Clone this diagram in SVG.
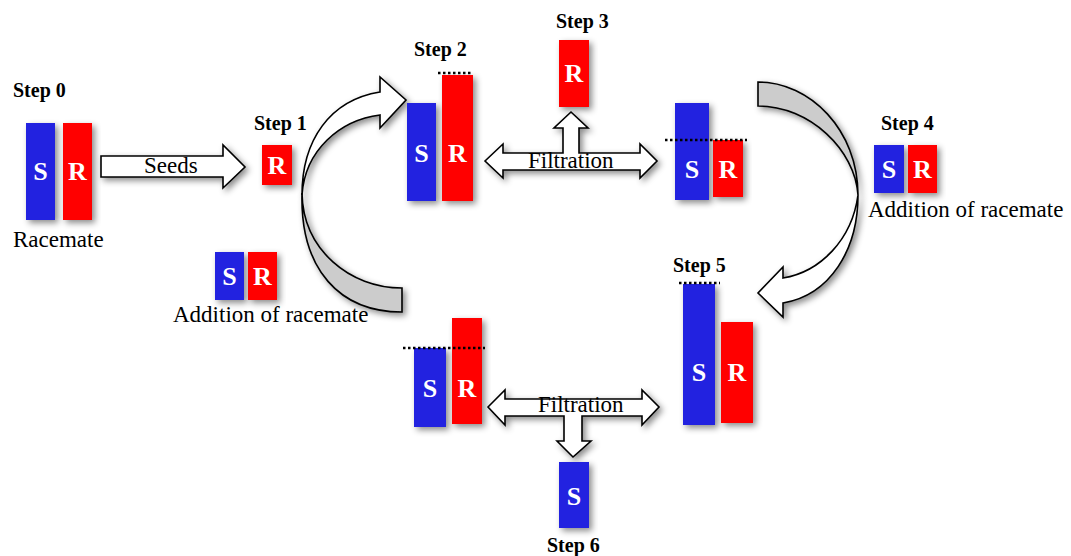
<svg xmlns="http://www.w3.org/2000/svg" width="1071" height="556" viewBox="0 0 1071 556">
<defs>
<filter id="sh" x="-30%" y="-30%" width="160%" height="160%">
<feDropShadow dx="3" dy="3" stdDeviation="3" flood-color="#000" flood-opacity="0.45"/>
</filter>
<style>
.b{fill:#2424E0;filter:url(#sh)}
.r{fill:#FF0000;filter:url(#sh)}
.lt{font-family:"Liberation Serif",serif;font-weight:bold;font-size:26px;fill:#fff;text-anchor:middle}
.st{font-family:"Liberation Serif",serif;font-weight:bold;font-size:20px;fill:#000}
.tx{font-family:"Liberation Serif",serif;font-size:23px;fill:#000}
.dot{stroke:#000;stroke-width:2.5;stroke-dasharray:2.5 2.5;fill:none}
.ar{fill:#fff;stroke:#000;stroke-width:1.6;stroke-linejoin:miter;filter:url(#sh)}
.arg{fill:#CCCCCC;stroke:#000;stroke-width:1.6;filter:url(#sh)}
</style>
</defs>
<rect width="1071" height="556" fill="#fff"/>

<g id="connectors">
<path id="seeds-arrow" class="ar" d="M101,156 L223,156 L223,145 L245,167 L223,188 L223,177 L101,177 Z"/>
<g id="curve1">
<path class="arg" d="M402,288 C350,288 303,250 302,193 C300,270 340,312 402,312 Z"/>
<path class="ar" d="M302,195 C302,140 330,100 380,92 L380,77 L406,100 L380,128 L380,115 C340,120 305,150 302,195 Z"/>
</g>
<path id="filtration-top" class="ar" d="M485,161 L503,144 L503,153 L563,153 L563,128 L554,128 L571,112 L588,128 L579,128 L579,153 L640,153 L640,144 L657,161 L640,178 L640,170 L503,170 L503,178 Z"/>
<g id="curve2">
<path class="arg" d="M758,82 C810,82 858,130 858,195 C855,150 810,106 758,106 Z"/>
<path class="ar" d="M858,195 C858,250 830,295 783,303 L783,317 L758,293 L783,267 L783,278 C820,272 852,240 858,195 Z"/>
</g>
<path id="filtration-bottom" class="ar" d="M488,407 L505,390 L505,399 L642,399 L642,390 L659,407 L642,425 L642,416 L582,416 L582,441 L591,441 L573,457 L557,441 L564,441 L564,416 L505,416 L505,425 Z"/>
<text class="tx" x="144" y="173">Seeds</text>
<text class="tx" x="528" y="168">Filtration</text>
<text class="tx" x="538" y="412">Filtration</text>
</g>

<g id="step0">
<text class="st" x="13" y="97">Step 0</text>
<rect class="b" x="26" y="123" width="29" height="97"/>
<rect class="r" x="63" y="123" width="29" height="97"/>
<text class="lt" x="40.5" y="180">S</text>
<text class="lt" x="77.5" y="180">R</text>
<text class="tx" x="13" y="247">Racemate</text>
</g>

<g id="step1">
<text class="st" x="254" y="130">Step 1</text>
<rect class="r" x="262" y="145" width="30" height="40"/>
<text class="lt" x="277" y="174">R</text>
</g>

<g id="addition1">
<rect class="b" x="215" y="252" width="29" height="48"/>
<rect class="r" x="248" y="252" width="29" height="48"/>
<text class="lt" x="229.5" y="285">S</text>
<text class="lt" x="262.5" y="285">R</text>
<text class="tx" x="173" y="322">Addition of racemate</text>
</g>

<g id="step2">
<text class="st" x="414" y="56">Step 2</text>
<rect class="b" x="407" y="103" width="29" height="98"/>
<rect class="r" x="442" y="75" width="31" height="126"/>
<line class="dot" x1="438" y1="73" x2="473" y2="73"/>
<text class="lt" x="421.5" y="162">S</text>
<text class="lt" x="457.5" y="162">R</text>
</g>

<g id="step3">
<text class="st" x="556" y="28">Step 3</text>
<rect class="r" x="559" y="40" width="30" height="67"/>
<text class="lt" x="574" y="82">R</text>
</g>

<g id="step3-residue">
<rect class="b" x="675" y="103" width="34" height="97"/>
<rect class="r" x="713" y="140" width="30" height="57"/>
<line class="dot" x1="665" y1="140" x2="747" y2="140"/>
<text class="lt" x="692" y="178">S</text>
<text class="lt" x="728" y="178">R</text>
</g>

<g id="step4">
<text class="st" x="881" y="130">Step 4</text>
<rect class="b" x="874" y="145" width="30" height="48"/>
<rect class="r" x="908" y="145" width="29" height="48"/>
<text class="lt" x="889" y="178">S</text>
<text class="lt" x="922.5" y="178">R</text>
<text class="tx" x="868" y="217">Addition of racemate</text>
</g>

<g id="step5">
<text class="st" x="673" y="272">Step 5</text>
<rect class="b" x="683" y="284" width="32" height="141"/>
<rect class="r" x="721" y="322" width="32" height="101"/>
<line class="dot" x1="679" y1="283" x2="720" y2="283"/>
<text class="lt" x="699" y="381">S</text>
<text class="lt" x="737" y="381">R</text>
</g>

<g id="step5-residue">
<rect class="b" x="414" y="348" width="32" height="79"/>
<rect class="r" x="452" y="318" width="30" height="106"/>
<line class="dot" x1="403" y1="348" x2="485" y2="348"/>
<text class="lt" x="430" y="397">S</text>
<text class="lt" x="467" y="397">R</text>
</g>

<g id="step6">
<rect class="b" x="559" y="462" width="30" height="66"/>
<text class="lt" x="574" y="505">S</text>
<text class="st" x="547" y="552">Step 6</text>
</g>
</svg>
